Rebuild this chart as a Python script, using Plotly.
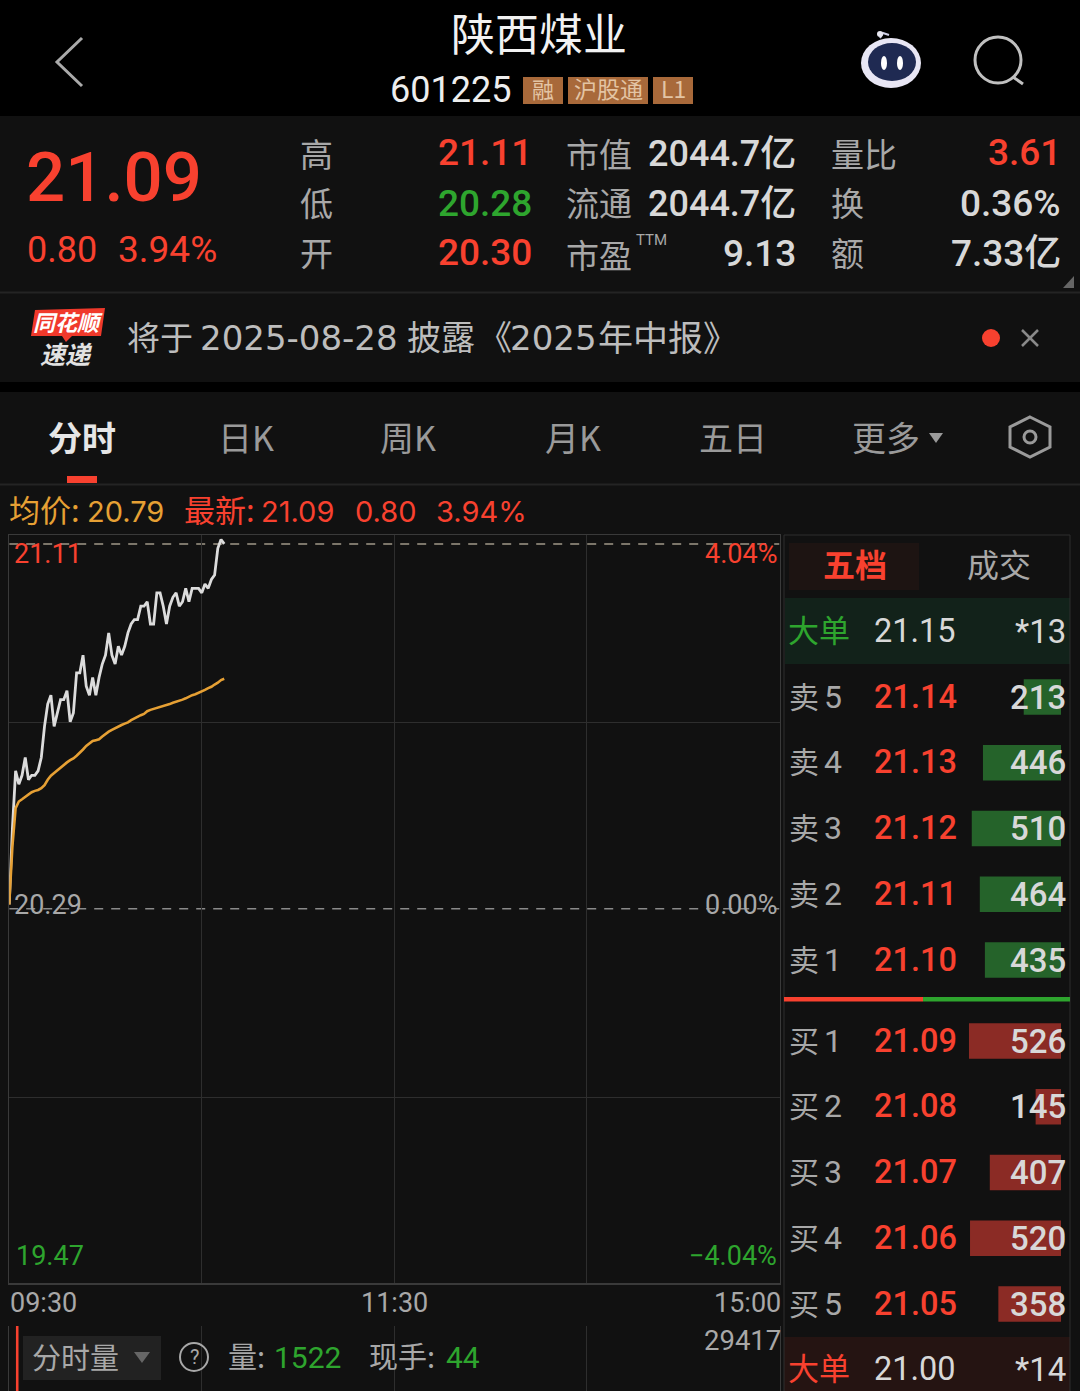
import plotly.graph_objects as go

W, H = 1080, 1391

# ---------- data ----------
minutes = list(range(68))
price = [20.30,20.47,20.60,20.57,20.59,20.63,20.58,20.59,20.59,20.60,20.63,20.70,20.75,20.77,20.70,20.73,20.76,
         20.76,20.78,20.71,20.73,20.82,20.82,20.86,20.79,20.77,20.81,20.77,20.81,20.84,20.86,20.91,20.86,20.84,
         20.88,20.86,20.88,20.91,20.93,20.94,20.94,20.97,20.97,20.98,20.93,20.93,21.00,21.00,20.97,20.93,20.97,
         20.99,21.00,20.97,20.98,21.01,20.98,21.01,21.01,21.01,21.00,21.02,21.01,21.03,21.04,21.10,21.12,21.11]
avg_price = [20.299,20.430,20.516,20.531,20.536,20.542,20.547,20.552,20.555,20.557,20.561,20.568,20.580,20.589,
             20.595,20.601,20.608,20.615,20.619,20.624,20.628,20.634,20.640,20.648,20.656,20.662,20.667,20.669,
             20.671,20.677,20.683,20.688,20.692,20.696,20.700,20.703,20.706,20.709,20.714,20.718,20.722,20.725,
             20.728,20.734,20.737,20.739,20.741,20.744,20.746,20.748,20.750,20.753,20.755,20.757,20.760,20.763,
             20.767,20.770,20.772,20.775,20.778,20.782,20.786,20.789,20.794,20.798,20.804,20.807]
prev_close = 20.29
day_high_line = 21.11
price_grid = [20.709, 19.866]
time_grid = [60, 120, 180]

sell_labels = ["卖1", "卖2", "卖3", "卖4", "卖5"]
sell_prices = ["21.10", "21.11", "21.12", "21.13", "21.14"]
sell_vols = [435, 464, 510, 446, 213]
buy_labels = ["买5", "买4", "买3", "买2", "买1"]
buy_prices = ["21.05", "21.06", "21.07", "21.08", "21.09"]
buy_vols = [358, 520, 407, 145, 526]
vol_minute = [2.5]
vol_value = [29417]

RED = "#f8412f"
GREEN = "#2ea52e"
GRAY = "#a8a8a8"
LIGHT = "#d8d8d8"
ORANGE = "#e6a034"
PANEL = "#111111"
LINE = "#2e2e2e"
NUM = "Roboto, 'Noto Sans CJK SC'"
WIDE = "Inter, 'Noto Sans CJK SC'"
DV = "'DejaVu Sans', 'Noto Sans CJK SC'"
CJK = "'Noto Sans CJK SC', Roboto"

def X(p): return p / W
def Y(p): return 1 - p / H

ann, shp = [], []

def t(x, y, s, size, color=LIGHT, a="left", font=NUM, weight=400, italic=False):
    if font == CJK:
        y -= 2.5
    ann.append(dict(x=X(x), y=Y(y), xref="paper", yref="paper", text=s, showarrow=False,
                    xanchor=a, yanchor="middle", align=a,
                    font=dict(family=font, size=size, color=color, weight=weight,
                              style="italic" if italic else "normal"),
                    borderpad=0, borderwidth=0))

def rect(x0, y0, x1, y1, fill, layer="below"):
    shp.append(dict(type="rect", xref="paper", yref="paper", x0=X(x0), x1=X(x1), y0=Y(y0), y1=Y(y1),
                    fillcolor=fill, line=dict(width=0), layer=layer))

def hline(y, x0, x1, color=LINE, w=1):
    shp.append(dict(type="line", xref="paper", yref="paper", x0=X(x0), x1=X(x1), y0=Y(y), y1=Y(y),
                    line=dict(color=color, width=w), layer="below"))

def vline(x, y0, y1, color=LINE, w=1):
    shp.append(dict(type="line", xref="paper", yref="paper", x0=X(x), x1=X(x), y0=Y(y0), y1=Y(y1),
                    line=dict(color=color, width=w), layer="below"))

def poly(pts, fill=None, color=None, w=0, close=False, layer="above"):
    d = "M" + " L".join(f"{X(a):.5f},{Y(b):.5f}" for a, b in pts) + (" Z" if close else "")
    shp.append(dict(type="path", xref="paper", yref="paper", path=d, fillcolor=fill or "rgba(0,0,0,0)",
                    line=dict(color=color or "rgba(0,0,0,0)", width=w), layer=layer))

def circ(cx, cy, rx, ry, fill=None, color=None, w=0):
    shp.append(dict(type="circle", xref="paper", yref="paper", x0=X(cx-rx), x1=X(cx+rx), y0=Y(cy-ry), y1=Y(cy+ry),
                    fillcolor=fill or "rgba(0,0,0,0)", line=dict(color=color or "rgba(0,0,0,0)", width=w), layer="above"))

# ---------- panels ----------
rect(0, 116, W, 382, PANEL)
rect(0, 392, W, H, PANEL)
hline(292.5, 0, W, "#242424", 2)
hline(484.5, 0, W, "#242424", 2)

# ---------- header ----------
poly([(82, 38), (57, 62), (82, 86)], color="#aaaaaa", w=3)
t(539, 35, "陕西煤业", 44, "#f2f2f2", "center", CJK)
t(450, 90, "601225", 36, "#eeeeee", "center", NUM)
for x0, x1, s, sz in [(523, 563, "融", 22), (568, 648, "沪股通", 23), (653, 693, "L1", 23)]:
    rect(x0, 77, x1, 104, "#a8693a")
    t((x0 + x1) / 2, 90.5, s, sz, "#e3c4a4", "center", CJK)
# robot
poly([(880, 38), (883, 33), (889, 35)], color="#cfcfe6", w=2)
circ(891, 63, 30, 25, "#e8e6f4")
circ(892, 62, 24, 19, "#1f2a52")
circ(884, 63, 3, 7, "#ffffff")
circ(900, 63, 3, 7, "#ffffff")
circ(880, 34, 3, 3, "#e6e6f0")
# search
circ(998, 60, 23, 23, None, "#c0c0c0", 3)
poly([(1013, 77), (1023, 84)], color="#c0c0c0", w=3)

# ---------- quote ----------
t(114, 177, "21.09", 69, RED, "center", NUM, 500)
t(27, 250, "0.80", 36, RED)
t(118, 250, "3.94%", 37, RED)
for y, s in [(155, "高"), (205, "低"), (254, "开")]:
    t(316, y, s, 33, GRAY, "center", CJK)
t(532, 153, "21.11", 37, RED, "right", NUM, 500)
t(532, 203, "20.28", 37, GREEN, "right", NUM, 500)
t(532, 252, "20.30", 37, RED, "right", NUM, 500)
t(566, 155, "市值", 33, GRAY, "left", CJK)
t(566, 205, "流通", 33, GRAY, "left", CJK)
t(566, 257, "市盈", 33, GRAY, "left", CJK)
t(636, 240, "TTM", 15, GRAY, "left", NUM)
t(796, 154, "2044.7亿", 36, LIGHT, "right", NUM, 500)
t(796, 204, "2044.7亿", 36, LIGHT, "right", NUM, 500)
t(796, 253, "9.13", 37, LIGHT, "right", NUM, 500)
t(831, 155, "量比", 33, GRAY, "left", CJK)
t(831, 205, "换", 33, GRAY, "left", CJK)
t(831, 254, "额", 33, GRAY, "left", CJK)
t(1061, 153, "3.61", 37, RED, "right", NUM, 500)
t(1061, 204, "0.36%", 37, LIGHT, "right", NUM, 500)
t(1061, 253, "7.33亿", 37, LIGHT, "right", NUM, 500)
poly([(1063, 288), (1074, 288), (1074, 276)], fill="#666666", close=True)

# ---------- banner ----------
poly([(35, 310), (105, 308), (101, 336), (72, 336), (66, 342), (62, 336), (31, 336)], fill="#f0392b", close=True)
t(68, 323, "同花顺", 22, "#ffffff", "center", CJK, 700, True)
t(66, 355, "速递", 25, "#e2e2e2", "center", CJK, 700, True)
t(127, 338, "将于", 33, "#bdbdbd", "left", CJK)
t(200, 338, "2025-08-28", 34, "#bdbdbd", "left", DV)
t(407, 338, "披露", 34, "#bdbdbd", "left", CJK)
t(478, 338, "《", 34, "#bdbdbd", "left", CJK)
t(510, 338, "2025", 34, "#bdbdbd", "left", DV)
t(598, 338, "年中报》", 35, "#bdbdbd", "left", CJK)
circ(991, 338, 9, 9, RED)
poly([(1022, 330), (1038, 346)], color="#8a8a8a", w=2.5)
poly([(1038, 330), (1022, 346)], color="#8a8a8a", w=2.5)

# ---------- tabs ----------
t(82, 439, "分时", 34, "#e6e6e6", "center", CJK, 700)
for x, s in [(246, "日K"), (408, "周K"), (573, "月K"), (733, "五日"), (886, "更多")]:
    t(x, 439, s, 34, "#9a9a9a", "center", CJK)
poly([(929, 433), (943, 433), (936, 443)], fill="#9a9a9a", close=True)
rect(67, 476, 97, 483, RED)
poly([(1030, 417), (1050, 427), (1050, 447), (1030, 457), (1010, 447), (1010, 427)], color="#9a9a9a", w=3, close=True)
circ(1030, 437, 6, 6, None, "#9a9a9a", 3)

# ---------- info line ----------
t(9, 511, "均价:", 31, ORANGE, "left", CJK)
t(87, 511, "20.79", 29, ORANGE, "left", WIDE)
t(184, 511, "最新:", 31, RED, "left", CJK)
t(261, 511, "21.09", 29, RED, "left", WIDE)
t(355, 511, "0.80", 29, RED, "left", WIDE)
t(436, 511, "3.94%", 29, RED, "left", WIDE)

# ---------- chart labels ----------
t(14, 554, "21.11", 27, RED)
t(777, 554, "4.04%", 27, RED, "right")
t(14, 905, "20.29", 27, GRAY)
t(777, 905, "0.00%", 27, GRAY, "right")
t(16, 1256, "19.47", 27, GREEN)
t(777, 1256, "−4.04%", 27, GREEN, "right")
t(10, 1303, "09:30", 27, GRAY)
t(394, 1303, "11:30", 27, GRAY, "center")
t(781, 1303, "15:00", 27, GRAY, "right")

# ---------- order book chrome ----------
rect(789, 543, 919, 590, "#1d1412")
t(855, 566, "五档", 32, RED, "center", CJK, 700)
t(999, 566, "成交", 32, GRAY, "center", CJK)
rect(785, 598, 1070, 664, "#12221a")
rect(784, 1337, 1070, H, "#251412")
vline(1070, 535, H)
hline(535, 784, 1070)
vline(784, 535, H)
rect(784, 997, 923, 1001.5, RED)
rect(923, 997, 1070, 1001.5, GREEN)

t(788, 631, "大单", 31, GREEN, "left", CJK)
t(874, 631, "21.15", 32.5, LIGHT)
t(1066, 631, "*13", 33, LIGHT, "right")
t(788, 1369, "大单", 31, RED, "left", CJK)
t(874, 1369, "21.00", 32.5, LIGHT)
t(1066, 1369, "*14", 33, LIGHT, "right")

sell_rows = [960, 894, 828, 762, 697]
for lab, p, v, y in zip(sell_labels, sell_prices, sell_vols, sell_rows):
    t(789, y, lab[0], 30, GRAY, "left", CJK)
    t(824, y, lab[1], 32, GRAY)
    t(874, y, p, 32.5, RED, weight=500)
    t(1066, y, str(v), 33, LIGHT, "right", weight=500)
buy_rows = [1304, 1238, 1172, 1106, 1041]
for lab, p, v, y in zip(buy_labels, buy_prices, buy_vols, buy_rows):
    t(789, y, lab[0], 30, GRAY, "left", CJK)
    t(824, y, lab[1], 32, GRAY)
    t(874, y, p, 32.5, RED, weight=500)
    t(1066, y, str(v), 33, LIGHT, "right", weight=500)

# ---------- volume header ----------
shp.append(dict(type="rect", xref="paper", yref="paper", x0=X(23), x1=X(161), y0=Y(1336), y1=Y(1380),
                fillcolor="#222222", line=dict(width=0), layer="above"))
t(32, 1358, "分时量", 29, GRAY, "left", CJK)
poly([(134, 1352), (150, 1352), (142, 1363)], fill="#666666", close=True)
circ(194, 1357, 14, 14, None, GRAY, 2)
t(194, 1357, "?", 20, GRAY, "center", NUM)
t(228, 1357, "量:", 29, GRAY, "left", CJK)
t(274, 1357, "1522", 30, GREEN)
t(369, 1357, "现手:", 29, GRAY, "left", CJK)
t(446, 1357, "44", 30, GREEN)
t(781, 1340, "29417", 27.5, GRAY, "right")

# ---------- figure ----------
fig = go.Figure()
fig.add_trace(go.Scatter(x=minutes, y=price, mode="lines", line=dict(color="#dcdcdc", width=2.8),
                         xaxis="x", yaxis="y", showlegend=False))
fig.add_trace(go.Scatter(x=minutes, y=avg_price, mode="lines", line=dict(color=ORANGE, width=2.6),
                         xaxis="x", yaxis="y", showlegend=False))
fig.add_trace(go.Bar(x=sell_vols, y=sell_labels, orientation="h", marker=dict(color="#25632a", line=dict(width=0)),
                     xaxis="x2", yaxis="y2", showlegend=False))
fig.add_trace(go.Bar(x=buy_vols, y=buy_labels, orientation="h", marker=dict(color="#8b2b25", line=dict(width=0)),
                     xaxis="x3", yaxis="y3", showlegend=False))
fig.add_trace(go.Bar(x=vol_minute, y=vol_value, width=0.8, marker=dict(color=RED, line=dict(width=0)),
                     xaxis="x4", yaxis="y4", showlegend=False))

# dashed reference lines on the price scale
for val, col in [(day_high_line, "#a09888"), (prev_close, "#8a8a8a")]:
    shp.append(dict(type="line", xref="x", yref="y", x0=0, x1=240, y0=val, y1=val,
                    line=dict(color=col, width=1.5, dash="9px,8px"), layer="below"))

book_dom = [X(780), X(1061)]
book_rng = [1606, 0]
hidden = dict(visible=False, fixedrange=True)
chart_dom = [X(9.2), X(779.5)]

fig.update_layout(
    width=W, height=H, margin=dict(l=0, r=0, t=0, b=0, pad=0),
    paper_bgcolor="#000000", plot_bgcolor="rgba(0,0,0,0)",
    bargap=0.46, showlegend=False, shapes=shp, annotations=ann,
    xaxis=dict(domain=chart_dom, range=[0, 240], tickvals=time_grid, showticklabels=False, ticks="",
               showgrid=True, gridcolor=LINE, gridwidth=1, zeroline=False,
               showline=True, linecolor="#3a3a3a", linewidth=1.5, mirror=True, anchor="y"),
    yaxis=dict(domain=[Y(1283), Y(535)], range=[19.449, 21.130], tickvals=price_grid, showticklabels=False, ticks="",
               showgrid=True, gridcolor=LINE, gridwidth=1, zeroline=False,
               showline=True, linecolor="#3a3a3a", linewidth=1.5, mirror=True, anchor="x"),
    xaxis2=dict(domain=book_dom, range=book_rng, anchor="y2", **hidden),
    yaxis2=dict(domain=[Y(993), Y(664)], type="category", categoryorder="array", categoryarray=sell_labels,
                anchor="x2", **hidden),
    xaxis3=dict(domain=book_dom, range=book_rng, anchor="y3", **hidden),
    yaxis3=dict(domain=[Y(1337), Y(1008)], type="category", categoryorder="array", categoryarray=buy_labels,
                anchor="x3", **hidden),
    xaxis4=dict(domain=chart_dom, range=[0, 240], tickvals=time_grid, showticklabels=False, ticks="",
                showgrid=True, gridcolor=LINE, gridwidth=1, zeroline=False,
                showline=False, anchor="y4"),
    yaxis4=dict(domain=[0, Y(1326)], range=[20000, 29417], tickvals=[], showticklabels=False, ticks="",
                showgrid=False, zeroline=False, showline=True, linecolor="#3a3a3a", linewidth=1.5,
                mirror=True, anchor="x4"),
)

fig.write_html("out.html", config=dict(displayModeBar=False, staticPlot=True),
               post_script="document.body.style.margin='0';document.body.style.background='#000';")
